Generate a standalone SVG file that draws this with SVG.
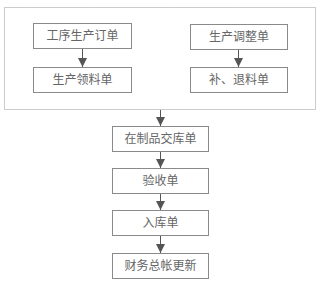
<svg xmlns="http://www.w3.org/2000/svg" width="320" height="282" viewBox="0 0 320 282">
<style>
.box{fill:#fff;stroke:#8a8a8a;stroke-width:1}
.lbl{font-family:"Liberation Sans","Noto Sans CJK SC",sans-serif;font-size:12px;fill:#666;text-anchor:middle;dominant-baseline:central}
.con{stroke:#555;stroke-width:1;fill:none}
.frame{fill:none;stroke:#999;stroke-width:1;stroke-dasharray:1 1}
</style>
<defs>
<marker id="ah" viewBox="0 0 10 10" refX="10" refY="5" markerWidth="9" markerHeight="9" markerUnits="userSpaceOnUse" orient="auto">
<path d="M0,0 L10,5 L0,10 Z" fill="#555"/>
</marker>
</defs>
<rect class="frame" x="4.5" y="7.5" width="311" height="102"/>
<g id="connectors">
<line class="con" x1="82.5" y1="49" x2="82.5" y2="67" marker-end="url(#ah)"/>
<line class="con" x1="238.5" y1="50" x2="238.5" y2="67" marker-end="url(#ah)"/>
<line class="con" x1="160.5" y1="110" x2="160.5" y2="126" marker-end="url(#ah)"/>
<line class="con" x1="160.5" y1="151" x2="160.5" y2="168" marker-end="url(#ah)"/>
<line class="con" x1="160.5" y1="193" x2="160.5" y2="210" marker-end="url(#ah)"/>
<line class="con" x1="160.5" y1="235" x2="160.5" y2="253" marker-end="url(#ah)"/>
</g>
<g id="n1"><rect class="box" x="33.5" y="23.5" width="98" height="25"/><text class="lbl" x="82.5" y="36">工序生产订单</text></g>
<g id="n2"><rect class="box" x="33.5" y="67.5" width="98" height="25"/><text class="lbl" x="82.5" y="80">生产领料单</text></g>
<g id="n3"><rect class="box" x="190.5" y="24.5" width="97" height="25"/><text class="lbl" x="239" y="37">生产调整单</text></g>
<g id="n4"><rect class="box" x="190.5" y="67.5" width="97" height="25"/><text class="lbl" x="239" y="80">补、退料单</text></g>
<g id="n5"><rect class="box" x="112.5" y="126.5" width="96" height="25"/><text class="lbl" x="160.5" y="139">在制品交库单</text></g>
<g id="n6"><rect class="box" x="112.5" y="168.5" width="96" height="25"/><text class="lbl" x="160.5" y="181">验收单</text></g>
<g id="n7"><rect class="box" x="112.5" y="210.5" width="96" height="25"/><text class="lbl" x="160.5" y="223">入库单</text></g>
<g id="n8"><rect class="box" x="112.5" y="253.5" width="96" height="25"/><text class="lbl" x="160.5" y="266">财务总帐更新</text></g>
</svg>
